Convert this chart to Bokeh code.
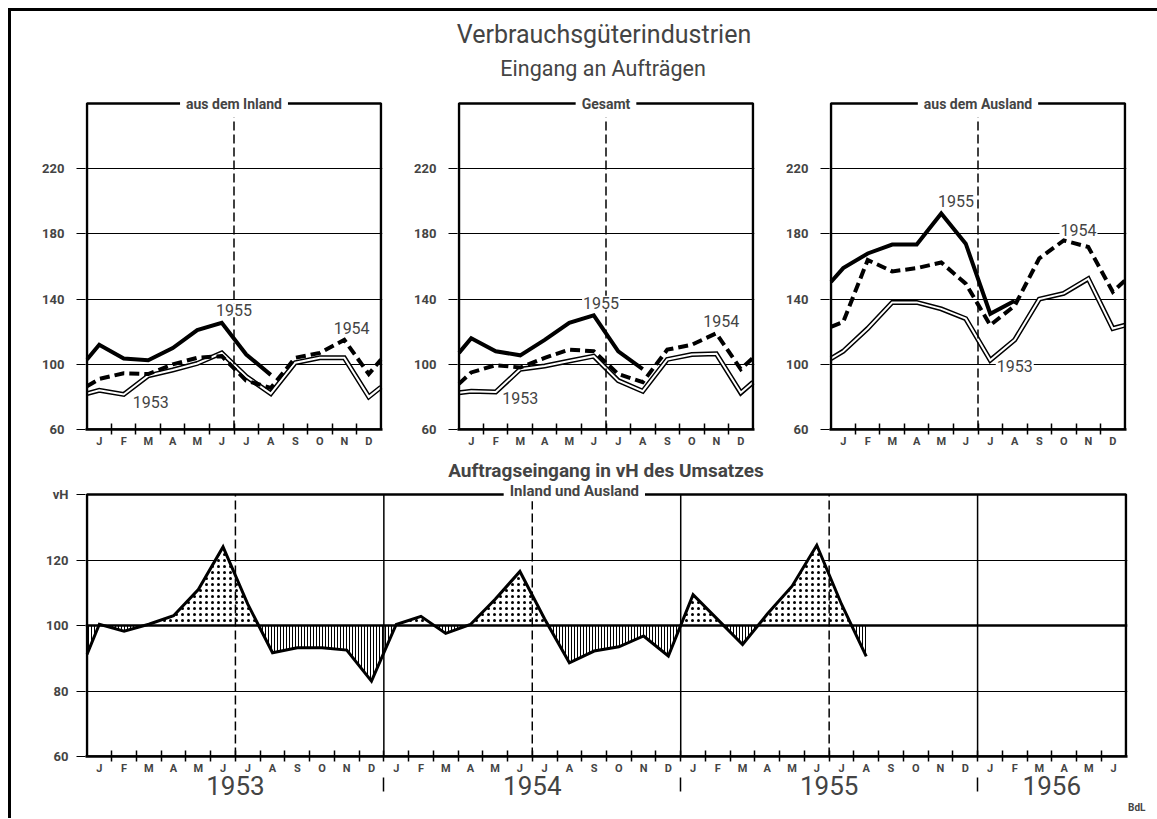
from bokeh.plotting import figure
from bokeh.models import Range1d, FixedTicker, LinearAxis, Label, Span, BoxAnnotation, Title
from bokeh.layouts import column, row
from bokeh.embed import file_html
from bokeh.resources import INLINE

FONT = "Roboto"

# ---------------- data ----------------
months = ["J", "F", "M", "A", "M", "J", "J", "A", "S", "O", "N", "D"]
months_bottom = months * 3 + ["J", "F", "M", "A", "M", "J"]
years_bottom = ["1953", "1954", "1955", "1956"]
top_y_ticks = [60, 100, 140, 180, 220]
bottom_y_ticks = [60, 80, 100, 120, 140]

# top panels: [value at left frame edge, Jan..Dec, value at right frame edge]
inland_1953 = [82, 84, 81.5, 93, 96.5, 100.5, 107, 92.5, 82, 101, 104, 104, 80, 86]
inland_1954 = [86.5, 91, 94.5, 94, 100, 104, 105, 90, 85.5, 104, 107, 115, 94, 103]
inland_1955 = [103, 112, 103.5, 102.5, 110, 121, 125.5, 106, 93.5]

gesamt_1953 = [82.5, 83.5, 83, 97, 99, 102, 105, 90, 83.5, 103, 106, 106.5, 82.5, 89]
gesamt_1954 = [88, 95, 99.5, 98, 104, 109, 108, 94, 89, 109, 112, 119, 97, 104]
gesamt_1955 = [107, 116, 108, 105.5, 115, 125.5, 130, 108, 97]

ausland_1953 = [103.5, 108, 122, 138, 138, 134, 128, 102.5, 115, 140, 143.5, 152.5, 122, 124]
ausland_1954 = [123, 126, 164, 157, 159, 162.5, 149.5, 124, 136, 165, 176, 172, 144.5, 151.5]
ausland_1955 = [150.5, 159, 168, 173.5, 173.5, 192.5, 174, 131, 139]

# bottom panel: value at left frame edge, then monthly Jan 1953 .. Aug 1955
ratio_edge = 91.2
ratio = [100.4, 98.3, 100.4, 103, 111, 124, 106.5, 91.7, 93.2, 93.2, 92.5, 83,
         100.3, 102.8, 97.6, 100.3, 108, 116.5, 102, 88.6, 92.2, 93.5, 96.8, 90.7,
         109.4, 101.8, 94.2, 103.5, 112, 124.5, 106.5, 90.6]

TOP_Y = (60, 260)
BOT_Y = (60, 140)
PAD = 0.06


def style_common(p):
    p.background_fill_color = "white"
    p.border_fill_color = "white"
    p.outline_line_color = None
    p.xgrid.visible = False
    p.ygrid.grid_line_color = "black"
    p.ygrid.grid_line_width = 1


def month_axis(ax, labels):
    n = len(labels)
    ax.ticker = FixedTicker(ticks=[i + 0.5 for i in range(n)], minor_ticks=list(range(1, n)))
    ax.major_label_overrides = {i + 0.5: m for i, m in enumerate(labels)}
    ax.major_tick_line_color = None
    ax.major_tick_out = 0
    ax.major_tick_in = 0
    ax.minor_tick_in = 6
    ax.minor_tick_out = 5
    ax.minor_tick_line_width = 1.5
    ax.minor_tick_line_color = "black"
    ax.axis_line_width = 2.5
    ax.major_label_text_font = FONT
    ax.major_label_text_font_style = "bold"
    ax.major_label_text_font_size = "11px"
    ax.major_label_standoff = 0


def value_axis(ax, ticks, overrides, standoff):
    ax.ticker = FixedTicker(ticks=ticks)
    ax.major_label_overrides = overrides
    ax.major_tick_out = 9
    ax.major_tick_in = 0
    ax.major_tick_line_width = 1
    ax.minor_tick_line_color = None
    ax.axis_line_color = None
    ax.major_label_standoff = standoff
    ax.major_label_text_font = FONT
    ax.major_label_text_font_style = "bold"
    ax.major_label_text_font_size = "13px"


def frame_box(left, right, bottom, top):
    return BoxAnnotation(left=left, right=right, bottom=bottom, top=top, fill_alpha=0,
                         line_color="black", line_alpha=1, line_width=2.5)


def top_panel(title, s53, s54, s55, lab_pos, width, bl, br):
    p = figure(width=width, height=367, x_range=Range1d(-PAD, 12 + PAD), y_range=Range1d(60, 268),
               output_backend="svg", toolbar_location=None,
               min_border_left=bl, min_border_right=br, min_border_top=2, min_border_bottom=26)
    style_common(p)
    xs = [0] + [i + 0.5 for i in range(12)] + [12]
    p.line(xs[:len(s53)], s53, line_color="black", line_width=5, line_join="miter")
    p.line(xs[:len(s53)], s53, line_color="white", line_width=2, line_join="miter")
    p.line(xs[:len(s54)], s54, line_color="black", line_width=4, line_dash="10 5", line_join="miter")
    p.line(xs[:len(s55)], s55, line_color="black", line_width=4, line_join="miter")

    p.segment(x0=[6], y0=[TOP_Y[0]], x1=[6], y1=[TOP_Y[1]], line_color="black",
              line_width=1.5, line_dash="9 4")
    p.add_layout(frame_box(0, 12, TOP_Y[0], TOP_Y[1]))

    month_axis(p.xaxis[0], months)
    value_axis(p.yaxis[0], top_y_ticks, {}, 12)
    p.ygrid.ticker = FixedTicker(ticks=[100, 140, 180, 220])

    p.add_layout(Label(x=6, y=TOP_Y[1], text=title, text_align="center", text_baseline="middle",
                       text_font=FONT, text_font_style="bold", text_font_size="14px",
                       background_fill_color="white", padding=6, level="overlay"))
    for txt, (lx, ly) in zip(["1953", "1954", "1955"], lab_pos):
        p.add_layout(Label(x=lx, y=ly, text=txt, text_align="center", text_baseline="middle",
                           text_font=FONT, text_font_size="16px",
                           background_fill_color="white", padding=1))
    return p


f1 = top_panel("aus dem Inland", inland_1953, inland_1954, inland_1955,
               [(2.6, 76.8), (10.8, 122), (6.0, 133.2)], 372, 74, 1)
f2 = top_panel("Gesamt", gesamt_1953, gesamt_1954, gesamt_1955,
               [(2.5, 79.4), (10.7, 126.5), (5.8, 137.7)], 373, 74, 2)
f3 = top_panel("aus dem Ausland", ausland_1953, ausland_1954, ausland_1955,
               [(7.5, 98.8), (10.1, 182.7), (5.1, 200)], 393, 73, 23)

# ---------------- title (frame aligned with the bottom panel by the column) ----------------
t = figure(width=1138, height=77, x_range=Range1d(-PAD, 42 + PAD), y_range=Range1d(0, 77),
           output_backend="svg", toolbar_location=None, x_axis_location=None,
           y_axis_location=None, min_border_left=74, min_border_right=22,
           min_border_top=0, min_border_bottom=0)
t.grid.visible = False
t.outline_line_color = None
t.add_layout(Label(x=20.9, y=54, text="Verbrauchsgüterindustrien", text_align="center",
                   text_baseline="middle", text_font=FONT, text_font_size="25px"))
t.add_layout(Label(x=20.86, y=20, text="Eingang an Aufträgen", text_align="center",
                   text_baseline="middle", text_font=FONT, text_font_size="21.5px"))

# ---------------- bottom panel ----------------
b = figure(width=1138, height=363, x_range=Range1d(-PAD, 42 + PAD), y_range=Range1d(60, 151.3),
           output_backend="svg", toolbar_location=None,
           min_border_left=74, min_border_right=22, min_border_top=2, min_border_bottom=62)
style_common(b)

bx = [0] + [i + 0.5 for i in range(len(ratio))]
by = [ratio_edge] + ratio
# split area above / below 100 at the crossings of the drawn line
px, py = [bx[0]], [by[0]]
for i in range(1, len(bx)):
    x0, y0, x1, y1 = bx[i - 1], by[i - 1], bx[i], by[i]
    if (y0 - 100) * (y1 - 100) < 0:
        px.append(x0 + (100 - y0) / (y1 - y0) * (x1 - x0))
        py.append(100)
    px.append(x1)
    py.append(y1)
above = [max(v, 100) for v in py]
below = [min(v, 100) for v in py]
b.varea(x=px, y1=[100] * len(px), y2=above, fill_color="white",
        hatch_pattern="dot", hatch_color="black", hatch_scale=6, hatch_weight=2.2)
b.varea(x=px, y1=[100] * len(px), y2=below, fill_color="white",
        hatch_pattern="vertical_line", hatch_color="black", hatch_scale=3, hatch_weight=1)
b.line(bx, by, line_color="black", line_width=3, line_join="miter")

b.add_layout(Span(location=100, dimension="width", line_color="black", line_width=2.5))
mid_years = [12 * i + 6 for i in range(3)]
year_ends = [12 * i for i in range(1, 4)]
b.segment(x0=mid_years, y0=[BOT_Y[0]] * 3, x1=mid_years, y1=[BOT_Y[1]] * 3,
          line_color="black", line_width=1.5, line_dash="9 4")
b.segment(x0=year_ends, y0=[BOT_Y[0]] * 3, x1=year_ends, y1=[BOT_Y[1]] * 3,
          line_color="black", line_width=1.5)
b.add_layout(frame_box(0, 42, BOT_Y[0], BOT_Y[1]))

month_axis(b.xaxis[0], months_bottom)

year_axis = LinearAxis(ticker=FixedTicker(ticks=[6, 18, 30, 39], minor_ticks=year_ends),
                       major_label_overrides={6: years_bottom[0], 18: years_bottom[1],
                                              30: years_bottom[2], 39: years_bottom[3]},
                       axis_line_color=None, major_tick_line_color=None,
                       major_tick_out=0, major_tick_in=0,
                       minor_tick_in=0, minor_tick_out=14, minor_tick_line_width=1.5,
                       minor_tick_line_color="black",
                       major_label_text_font=FONT, major_label_text_font_size="26px",
                       major_label_standoff=-16)
b.add_layout(year_axis, "below")
b.add_layout(Title(text="BdL", align="right", offset=-18, standoff=4, text_font=FONT,
                   text_font_size="10px", text_font_style="bold"), "below")

value_axis(b.yaxis[0], bottom_y_ticks, {140: "vH"}, 8)
b.ygrid.ticker = FixedTicker(ticks=[80, 120])

b.add_layout(Label(x=20.98, y=147.3, text="Auftragseingang in vH des Umsatzes",
                   text_align="center", text_baseline="middle", text_font=FONT,
                   text_font_style="bold", text_font_size="19px"))
b.add_layout(Label(x=19.7, y=BOT_Y[1] + 1, text="Inland und Ausland", text_align="center",
                   text_baseline="middle", text_font=FONT, text_font_style="bold",
                   text_font_size="15px", background_fill_color="white",
                   padding=dict(left=6, right=6, top=1, bottom=1), level="overlay"))

layout = column(t, row(f1, f2, f3), b,
                styles={"border-top": "3px solid black", "border-left": "3px solid black",
                        "margin-left": "8px", "margin-top": "8px", "padding-right": "8px"})

open("out.html", "w").write(file_html(layout, INLINE))
